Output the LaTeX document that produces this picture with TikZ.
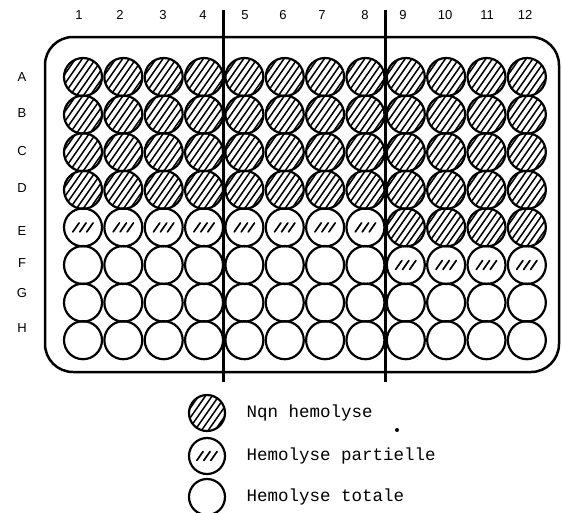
\documentclass[tikz,border=0pt]{standalone}
\usepackage{fontspec}
\setmainfont{Liberation Sans}
\newfontfamily\legendfont{Liberation Mono}
\begin{document}
\begin{tikzpicture}[x=1pt,y=-1pt,
  well/.style={circle,draw,line width=2.2pt,minimum size=38pt,inner sep=0pt},
  fullwell/.style={well,path picture={
    \foreach \k in {-4,...,4}
      \draw[line width=1.5pt] ([shift={(\k*4.5-14.4,\k*3.16+20.5)}]path picture bounding box.center) -- ++(28.7,-41);}},
  partwell/.style={well,path picture={
    \foreach \k in {-1,0,1}
      \draw[line width=1.7pt,line cap=round] ([shift={(\k*7-3.2,4.5)}]path picture bounding box.center) -- ++(6.3,-9);}},
  lbl/.style={font=\fontsize{13}{13}\selectfont},
  legtext/.style={font=\legendfont\fontsize{17.5}{18}\selectfont,anchor=west},
  divider/.style={line width=3pt}
]
\useasboundingbox (0,0) rectangle (562,512);
% plate
\draw[line width=2.5pt,rounded corners=28pt] (45,37) rectangle (559,372);
% column labels
\foreach \c/\x in {1/79,2/120,3/163,4/203,5/245,6/283,7/322,8/365,9/403,10/445,11/487,12/525}
  \node[lbl] (col\c) at (\x,15) {\c};
% row labels
\foreach \r/\y in {A/77,B/113,C/151,D/188,E/231,F/263,G/293,H/328}
  \node[lbl] (row\r) at (22,\y) {\r};
% wells
\foreach \r [count=\ri from 0] in {A,B,C,D,E,F,G,H}{
  \foreach \c in {1,...,12}{
    \pgfmathsetmacro{\wx}{83+40.35*(\c-1)}
    \pgfmathsetmacro{\wy}{77+37.6*\ri}
    \ifnum\ri<4
      \node[fullwell] (w\r\c) at (\wx,\wy) {};
    \else\ifnum\ri=4
      \ifnum\c<9
        \node[partwell] (w\r\c) at (\wx,\wy) {};
      \else
        \node[fullwell] (w\r\c) at (\wx,\wy) {};
      \fi
    \else\ifnum\ri=5
      \ifnum\c<9
        \node[well] (w\r\c) at (\wx,\wy) {};
      \else
        \node[partwell] (w\r\c) at (\wx,\wy) {};
      \fi
    \else
      \node[well] (w\r\c) at (\wx,\wy) {};
    \fi\fi\fi
  }
}
% dividers
\coordinate (d1t) at (223,10); \coordinate (d1b) at (223,382);
\coordinate (d2t) at (385,10); \coordinate (d2b) at (385,382);
\draw[divider] (d1t) -- (d1b);
\draw[divider] (d2t) -- (d2b);
% legend
\node[fullwell,minimum size=36pt] (leg1) at (207,413) {};
\node[partwell,minimum size=36pt] (leg2) at (207,456) {};
\node[well,minimum size=36pt] (leg3) at (207,497) {};
\node[legtext] (t1) at (243,413) {Nqn hemolyse};
\node[legtext] (t2) at (243,456) {Hemolyse partielle};
\node[legtext] (t3) at (243,497) {Hemolyse totale};
\fill (397,430) circle (2pt);
\end{tikzpicture}
\end{document}
